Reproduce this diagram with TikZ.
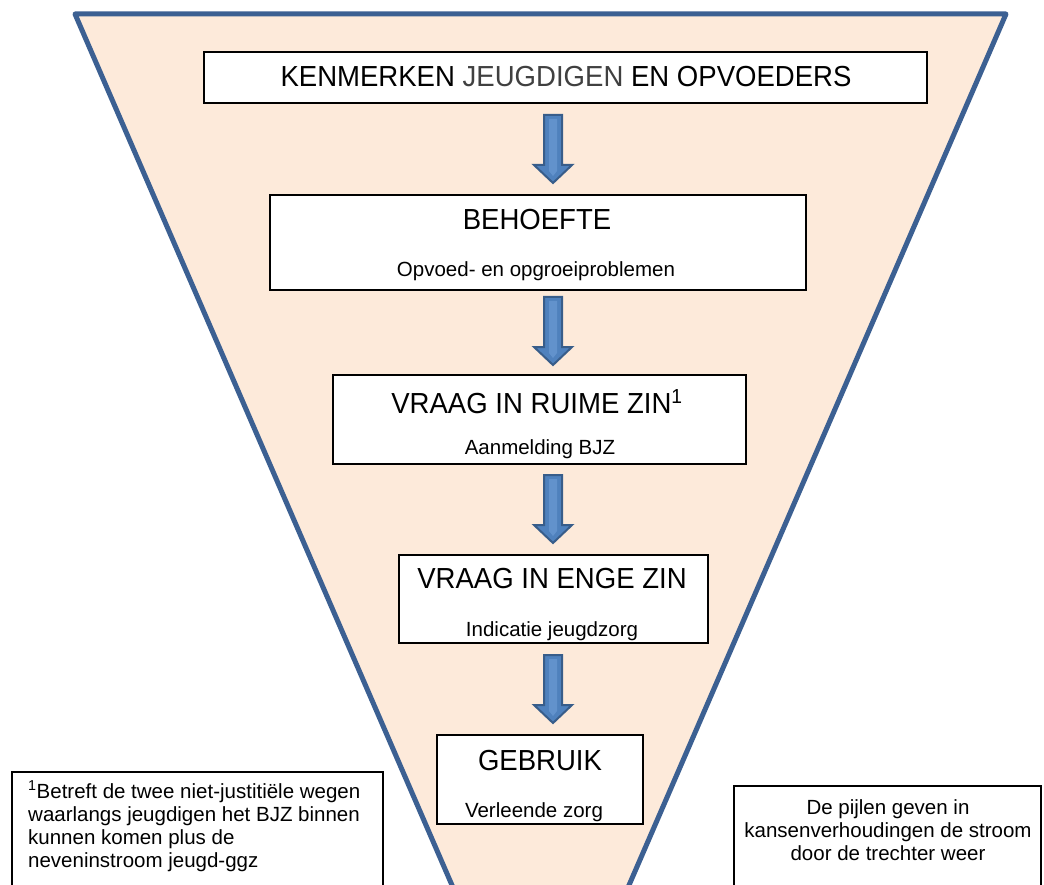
\documentclass[tikz,border=0pt]{standalone}
\usepackage{fontspec}
\setmainfont{Liberation Sans}
\newfontfamily\titlefont{Liberation Sans}[FakeStretch=0.95]
\usetikzlibrary{calc}
\definecolor{funnelline}{RGB}{60,96,146}
\definecolor{funnelfill}{RGB}{253,234,218}
\definecolor{arrowfill}{RGB}{79,129,189}
\definecolor{arrowlight}{RGB}{98,146,204}
\definecolor{arrowline}{RGB}{56,93,138}
\definecolor{softblack}{RGB}{64,64,64}
\begin{document}
\begin{tikzpicture}[x=1pt,y=-1pt,
  box/.style={draw=black,line width=1.6pt,fill=white,rectangle,inner sep=0pt,outer sep=0pt},
  title/.style={font=\titlefont\fontsize{29}{31}\selectfont,anchor=base,inner sep=0pt},
  sub/.style={font=\fontsize{20.5}{23}\selectfont,anchor=base,inner sep=0pt},
  notel/.style={font=\fontsize{20.5}{23}\selectfont,anchor=base west,inner sep=0pt},
  barrow/.style={fill=arrowfill,draw=arrowline,line width=2pt,line join=miter},
  bhighlight/.style={fill=arrowlight},
  funnel/.style={fill=funnelfill,draw=funnelline,line width=5pt,line join=round}]
\useasboundingbox (0,0) rectangle (1044,885);
\clip (0,0) rectangle (1044,885);
\fill[white] (0,0) rectangle (1044,885);
% funnel
\draw[funnel] (75,14) -- (1006,14) -- (575,1010) -- (506,1010) -- cycle;
% boxes
\node[box, minimum width=723, minimum height=51] (b1) at (565.5,77.5) {};
\node[box, minimum width=536, minimum height=95] (b2) at (538,242.5) {};
\node[box, minimum width=413, minimum height=89] (b3) at (539.5,419.5) {};
\node[box, minimum width=309, minimum height=88] (b4) at (553.5,599) {};
\node[box, minimum width=206, minimum height=89] (b5) at (540,779.5) {};
% texts
\node[title] (t1) at (566,87) {KENMERKEN \textcolor{softblack}{JEUGDIGEN} EN OPVOEDERS};
\node[title] (t2) at (537,230) {BEHOEFTE};
\node[sub] (s2) at (536,277) {Opvoed- en opgroeiproblemen};
\node[title] (t3) at (537,413) {VRAAG IN RUIME ZIN\textsuperscript{1}};
\node[sub] (s3) at (540,454) {Aanmelding BJZ};
\node[title] (t4) at (552,588) {VRAAG IN ENGE ZIN};
\node[sub] (s4) at (552,636) {Indicatie jeugdzorg};
\node[title] (t5) at (540,770) {GEBRUIK};
\node[sub] (s5) at (534,817) {Verleende zorg};
% block arrows
\coordinate (a1) at (553,115);
\coordinate (a2) at (553,297);
\coordinate (a3) at (553,475);
\coordinate (a4) at (553,655);
\foreach \a in {a1,a2,a3,a4}{
  \filldraw[barrow] (\a) ++(-9,0) -- ++(18,0) -- ++(0,50) -- ++(10,0) -- ++(-19,18) -- ++(-19,-18) -- ++(10,0) -- cycle;
  \fill[bhighlight] (\a) ++(-4,4) -- ++(8,0) -- ++(0,52) -- ++(-4,5) -- ++(-4,-5) -- cycle;
}
% footnote box
\node[box, minimum width=371, minimum height=150, anchor=north west] (fn) at (12,772) {};
\node[notel] (f1) at (28,798) {\textsuperscript{1}Betreft de twee niet-justitiële wegen};
\node[notel] (f2) at (28,821) {waarlangs jeugdigen het BJZ binnen};
\node[notel] (f3) at (28,844) {kunnen komen plus de};
\node[notel] (f4) at (28,867) {neveninstroom jeugd-ggz};
% right note box
\node[box, minimum width=307, minimum height=150, anchor=north west] (rb) at (734,786) {};
\node[sub] (r1) at (888,814) {De pijlen geven in};
\node[sub] (r2) at (888,837) {kansenverhoudingen de stroom};
\node[sub] (r3) at (888,860) {door de trechter weer};
\end{tikzpicture}
\end{document}
